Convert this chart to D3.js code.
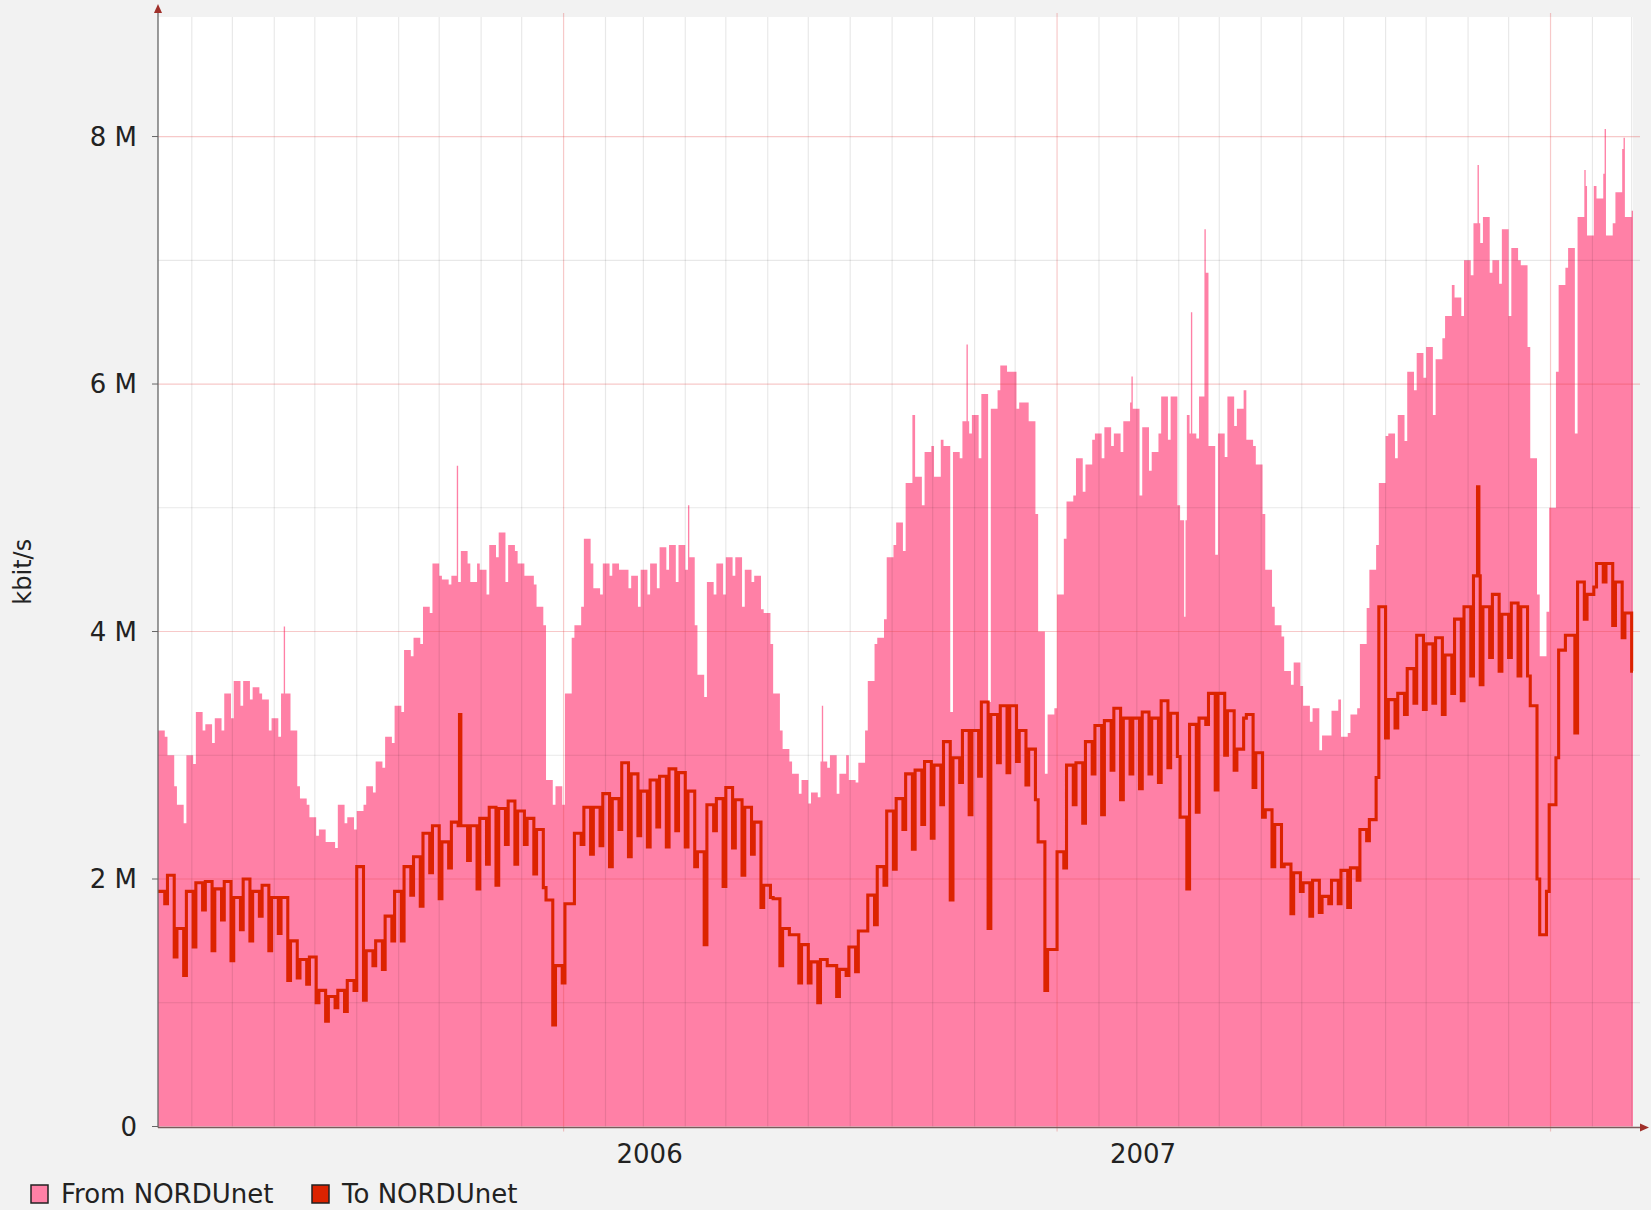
<!DOCTYPE html>
<html>
<head>
<meta charset="utf-8">
<script src="https://cdn.jsdelivr.net/npm/d3@7"></script>
<style>
  html, body { margin: 0; padding: 0; background: #f2f2f2; }
  svg { display: block; font-family: "DejaVu Sans", sans-serif; }
</style>
</head>
<body>
<svg id="chart" width="1651" height="1210"></svg>
<script>
// time span of the chart, one value pair per week (Mon-Fri, Sat-Sun), values in M kbit/s
const startDate = "2005-03-07";
const endDate = "2008-03-02";

const fromWeekday = [
    3.2, 3.0, 2.6, 3.0, 3.35, 3.25, 3.3, 3.5, 3.6, 3.6,
    3.55, 3.45, 3.3, 3.5, 3.2, 2.65, 2.5, 2.4, 2.3, 2.6,
    2.5, 2.55, 2.75, 2.95, 3.15, 3.4, 3.85, 3.95, 4.2, 4.55,
    4.42, 4.45, 4.65, 4.4, 4.5, 4.7, 4.8, 4.7, 4.55, 4.45,
    4.2, 2.8, 2.75, 3.5, 4.05, 4.75, 4.35, 4.55, 4.55, 4.5,
    4.45, 4.5, 4.55, 4.68, 4.7, 4.7, 4.6, 3.65, 4.4, 4.55,
    4.6, 4.6, 4.5, 4.45, 4.15, 3.5, 3.05, 2.85, 2.8, 2.7,
    2.95, 3.0, 2.85, 2.8, 2.94, 3.6, 3.95, 4.6, 4.88, 5.2,
    5.25, 5.45, 5.25, 5.5, 5.45, 5.7, 5.75, 5.92, 5.8, 6.15,
    6.1, 5.85, 5.7, 4.0, 3.33, 4.3, 5.05, 5.4, 5.35, 5.6,
    5.65, 5.6, 5.7, 5.8, 5.65, 5.45, 5.9, 5.9, 4.9, 5.6,
    5.9, 5.5, 5.6, 5.9, 5.8, 5.55, 5.35, 4.5, 4.05, 3.68,
    3.75, 3.4, 3.38, 3.16, 3.36, 3.15, 3.33, 3.9, 4.5, 5.2,
    5.6, 5.75, 6.1, 6.25, 6.3, 6.2, 6.55, 6.7, 7.0, 7.3,
    7.35, 7.0, 7.25, 7.1, 6.96, 5.4, 3.8, 5.0, 6.8, 7.1,
    7.35, 7.2, 7.5, 7.2, 7.55, 7.35
];
const fromWeekend = [
    3.15, 2.75, 2.45, 2.93, 3.2, 3.1, 3.2, 3.3, 3.4, 3.45,
    3.5, 3.2, 3.15, 3.5, 2.75, 2.6, 2.35, 2.3, 2.25, 2.45,
    2.4, 2.6, 2.7, 2.9, 3.1, 3.35, 3.8, 3.9, 4.15, 4.45,
    4.38, 4.4, 4.55, 4.55, 4.3, 4.6, 4.4, 4.65, 4.45, 4.38,
    4.05, 2.6, 2.6, 3.95, 4.2, 4.55, 4.3, 4.45, 4.5, 4.35,
    4.2, 4.3, 4.35, 4.5, 4.4, 4.5, 4.05, 3.47, 4.3, 4.3,
    4.45, 4.2, 4.4, 4.18, 3.9, 3.2, 2.95, 2.69, 2.61, 2.66,
    2.9, 2.69, 3.0, 2.78, 3.2, 3.9, 4.1, 4.7, 4.65, 5.75,
    5.02, 5.5, 5.55, 3.35, 5.4, 5.6, 5.4, 3.43, 5.95, 6.1,
    5.8, 5.85, 4.95, 2.85, 3.38, 4.75, 5.1, 5.13, 5.55, 5.4,
    5.5, 5.45, 5.85, 5.1, 5.3, 5.6, 5.55, 5.02, 5.75, 5.56,
    6.9, 4.62, 5.41, 5.66, 5.95, 5.5, 4.95, 4.2, 3.96, 3.57,
    3.56, 3.27, 3.04, 3.16, 3.45, 3.18, 3.38, 4.19, 4.7, 5.58,
    5.4, 5.54, 5.95, 6.05, 5.75, 6.37, 6.8, 6.55, 6.88, 7.14,
    6.9, 6.81, 6.55, 7.0, 6.3, 4.3, 4.16, 6.1, 6.94, 5.6,
    7.6, 7.6, 7.7, 7.3, 7.9, 7.4
];
const toWeekday = [
    1.9, 2.03, 1.6, 1.9, 1.97, 1.98, 1.92, 1.98, 1.85, 2.0,
    1.9, 1.95, 1.85, 1.85, 1.5, 1.35, 1.37, 1.1, 1.05, 1.1,
    1.18, 2.1, 1.42, 1.5, 1.7, 1.9, 2.1, 2.18, 2.37, 2.43,
    2.3, 2.46, 2.43, 2.43, 2.49, 2.58, 2.57, 2.63, 2.55, 2.49,
    2.4, 1.83, 1.3, 1.8, 2.37, 2.58, 2.58, 2.69, 2.65, 2.94,
    2.85, 2.71, 2.8, 2.83, 2.89, 2.86, 2.71, 2.22, 2.6, 2.65,
    2.74, 2.64, 2.58, 2.46, 1.95, 1.84, 1.6, 1.55, 1.47, 1.33,
    1.35, 1.3, 1.27, 1.45, 1.58, 1.87, 2.1, 2.55, 2.65, 2.85,
    2.88, 2.95, 2.92, 3.11, 2.98, 3.2, 3.2, 3.43, 3.33, 3.4,
    3.4, 3.2, 3.05, 2.3, 1.43, 2.22, 2.92, 2.94, 3.11, 3.24,
    3.28, 3.38, 3.3, 3.3, 3.35, 3.3, 3.44, 3.34, 2.5, 3.25,
    3.3, 3.5, 3.5, 3.36, 3.05, 3.33, 3.02, 2.56, 2.44, 2.12,
    2.05, 1.97, 1.99, 1.86, 1.99, 2.07, 2.09, 2.4, 2.48, 4.2,
    3.45, 3.5, 3.7, 3.97, 3.9, 3.95, 3.81, 4.1, 4.2, 4.45,
    4.2, 4.3, 4.14, 4.23, 4.2, 3.4, 1.55, 2.6, 3.85, 3.97,
    4.4, 4.3, 4.55, 4.55, 4.4, 4.15
];
const toWeekend = [
    1.8, 1.37, 1.22, 1.45, 1.75, 1.42, 1.67, 1.34, 1.59, 1.5,
    1.7, 1.42, 1.56, 1.18, 1.2, 1.15, 1.0, 0.85, 0.96, 0.93,
    1.1, 1.02, 1.3, 1.27, 1.5, 1.5, 1.87, 1.78, 2.05, 1.84,
    2.09, 2.43, 2.15, 1.92, 2.12, 1.95, 2.28, 2.12, 2.28, 2.04,
    1.93, 0.82, 1.16, 1.8, 2.28, 2.2, 2.27, 2.1, 2.4, 2.18,
    2.35, 2.26, 2.42, 2.26, 2.39, 2.26, 2.1, 1.47, 2.39, 1.94,
    2.25, 2.03, 2.2, 1.77, 1.85, 1.3, 1.55, 1.16, 1.16, 1.0,
    1.3, 1.05, 1.22, 1.25, 1.58, 1.63, 1.95, 2.08, 2.4, 2.24,
    2.44, 2.33, 2.6, 1.83, 2.78, 2.52, 2.83, 1.6, 2.94, 2.86,
    2.95, 2.76, 2.64, 1.1, 1.43, 2.09, 2.6, 2.45, 2.85, 2.52,
    2.88, 2.64, 2.85, 2.73, 2.85, 2.78, 2.9, 2.99, 1.92, 2.54,
    3.25, 2.72, 3.0, 2.88, 3.3, 2.74, 2.5, 2.1, 2.1, 1.72,
    1.9, 1.7, 1.73, 1.8, 1.8, 1.77, 1.99, 2.31, 2.82, 3.14,
    3.22, 3.33, 3.42, 3.37, 3.42, 3.33, 3.5, 3.44, 3.64, 3.57,
    3.79, 3.68, 3.79, 3.64, 3.64, 2.0, 1.9, 2.98, 3.97, 3.18,
    4.1, 4.36, 4.4, 4.05, 3.95, 3.68
];

// single days that stand out from their week
const fromSpikes = [
    ["2005-06-08", 4.04], ["2005-10-14", 5.34], ["2006-04-03", 5.02],
    ["2006-07-11", 3.4], ["2006-10-26", 6.32], ["2007-02-25", 6.06],
    ["2007-04-05", 4.12], ["2007-04-10", 6.58], ["2007-04-20", 7.25],
    ["2007-11-08", 7.77], ["2008-01-26", 7.73], ["2008-02-10", 8.06],
    ["2008-02-24", 7.99]
];
const toSpikes = [
    ["2005-10-16", 3.33], ["2007-11-08", 5.17]
];

const yMajor = [0, 2, 4, 6, 8];
const yMinor = [1, 3, 5, 7];
const yearLabels = ["2006", "2007"];
const seriesNames = ["From NORDUnet", "To NORDUnet"];
const seriesColors = ["#ff80a6", "#dc2300"];

const parse = d3.utcParse("%Y-%m-%d");
const fmt = d3.utcFormat("%Y-%m-%d");

function buildSeries(weekday, weekend, spikes) {
    let start = parse(startDate), end = parse(endDate);
    let over = new Map(spikes);
    let pts = d3.utcDay.range(start, end).map((day, i) => {
        let w = Math.floor(i / 7);
        let v = i % 7 < 5 ? weekday[w] : weekend[w];
        let key = fmt(day);
        return { date: day, value: over.has(key) ? over.get(key) : v };
    });
    pts.push({ date: end, value: pts[pts.length - 1].value });
    return pts;
}

let fromData = buildSeries(fromWeekday, fromWeekend, fromSpikes);
let toData = buildSeries(toWeekday, toWeekend, toSpikes);

let svg = d3.select("#chart");
let plotLeft = 158, plotRight = 1633, plotTop = 17, plotBottom = 1126.5;

let x = d3.scaleUtc().domain([parse(startDate), parse(endDate)]).range([plotLeft, plotRight]);
let y = d3.scaleLinear().domain([0, 8.966]).range([plotBottom, plotTop]);

// plot background
svg.append("rect")
    .attr("x", plotLeft).attr("y", plotTop)
    .attr("width", plotRight - plotLeft).attr("height", plotBottom - plotTop)
    .attr("fill", "white");

// from NORDUnet: filled steps
let area = d3.area()
    .x(d => x(d.date))
    .y0(y(0))
    .y1(d => y(d.value))
    .curve(d3.curveStepAfter);

svg.append("path")
    .datum(fromData)
    .attr("d", area)
    .attr("fill", seriesColors[0]);

// grid lines, drawn over the area
let months = d3.utcMonth.range(parse(startDate), parse(endDate));
months.forEach(m => {
    let isYear = m.getUTCMonth() === 0;
    svg.append("line")
        .attr("x1", x(m)).attr("x2", x(m))
        .attr("y1", isYear ? plotTop - 4 : plotTop).attr("y2", isYear ? plotBottom + 5 : plotBottom)
        .attr("stroke", isYear ? "rgba(225,60,60,0.28)" : "rgba(0,0,0,0.09)")
        .attr("stroke-width", 1.2);
});

yMinor.forEach(v => {
    svg.append("line")
        .attr("x1", plotLeft).attr("x2", plotRight + 7)
        .attr("y1", y(v)).attr("y2", y(v))
        .attr("stroke", "rgba(0,0,0,0.09)")
        .attr("stroke-width", 1.2);
});
yMajor.filter(v => v > 0).forEach(v => {
    svg.append("line")
        .attr("x1", plotLeft).attr("x2", plotRight + 7)
        .attr("y1", y(v)).attr("y2", y(v))
        .attr("stroke", "rgba(225,60,60,0.28)")
        .attr("stroke-width", 1.2);
});

// to NORDUnet: step line
let line = d3.line()
    .x(d => x(d.date))
    .y(d => y(d.value))
    .curve(d3.curveStepAfter);

svg.append("path")
    .datum(toData)
    .attr("d", line)
    .attr("fill", "none")
    .attr("stroke", seriesColors[1])
    .attr("stroke-width", 3.1)
    .attr("stroke-linejoin", "miter");

// axes
svg.append("line")
    .attr("x1", plotLeft).attr("x2", plotLeft)
    .attr("y1", 10).attr("y2", plotBottom + 1)
    .attr("stroke", "#666").attr("stroke-width", 1.3);
svg.append("path")
    .attr("d", `M${plotLeft - 4},13 L${plotLeft},4 L${plotLeft + 4},13 Z`)
    .attr("fill", "#a0302a");

svg.append("line")
    .attr("x1", plotLeft).attr("x2", 1642)
    .attr("y1", plotBottom + 1).attr("y2", plotBottom + 1)
    .attr("stroke", "#7a5a5a").attr("stroke-width", 1.3);
svg.append("path")
    .attr("d", `M1640,${plotBottom - 3} L1649,${plotBottom + 1} L1640,${plotBottom + 5} Z`)
    .attr("fill", "#a0302a");

yMajor.forEach(v => {
    svg.append("line")
        .attr("x1", plotLeft - 6).attr("x2", plotLeft)
        .attr("y1", y(v)).attr("y2", y(v))
        .attr("stroke", "#666");
    svg.append("text")
        .attr("x", 137)
        .attr("y", y(v))
        .attr("dy", "0.36em")
        .attr("text-anchor", "end")
        .attr("font-size", "26px")
        .attr("fill", "#222")
        .text(v === 0 ? "0" : v + " M");
});

yearLabels.forEach(yr => {
    svg.append("text")
        .attr("x", x(parse(yr + "-01-01")) + 86)
        .attr("y", 1163)
        .attr("text-anchor", "middle")
        .attr("font-size", "26px")
        .attr("fill", "#222")
        .text(yr);
});

svg.append("text")
    .attr("transform", "translate(31," + ((plotTop + plotBottom) / 2) + ") rotate(-90)")
    .attr("text-anchor", "middle")
    .attr("font-size", "24px")
    .attr("fill", "#222")
    .text("kbit/s");

// legend
let legendX = [31, 312];
seriesNames.forEach((name, i) => {
    svg.append("rect")
        .attr("x", legendX[i]).attr("y", 1185)
        .attr("width", 17).attr("height", 18)
        .attr("fill", seriesColors[i])
        .attr("stroke", "#222").attr("stroke-width", 1.5);
    svg.append("text")
        .attr("x", legendX[i] + 30)
        .attr("y", 1203)
        .attr("font-size", "26px")
        .attr("fill", "#222")
        .text(name);
});
</script>
</body>
</html>
